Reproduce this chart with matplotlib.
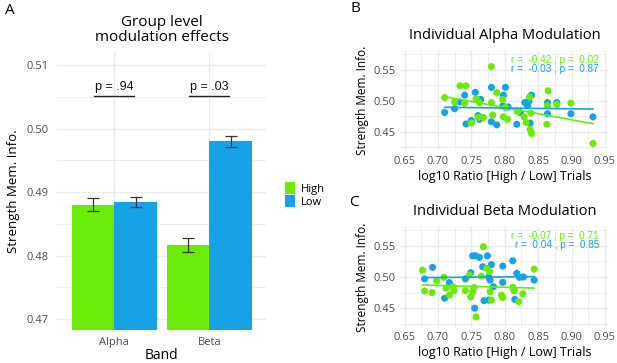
import matplotlib
matplotlib.use("Agg")
import matplotlib.pyplot as plt
from matplotlib.patches import Patch
from matplotlib.ticker import MultipleLocator
import numpy as np

plt.rcParams['font.family'] = ['Open Sans', 'DejaVu Sans']

GREEN = '#6AEB0A'
BLUE = '#17A1E6'
GRID = '#EBEBEB'
TICKC = '#4D4D4D'

# ---- Panel A data ----
bands = ['Alpha', 'Beta']
high_means = [0.4880, 0.4816]
high_se = [0.0010, 0.0011]
low_means = [0.4884, 0.4980]
low_se = [0.0008, 0.0009]
p_labels = ['p = .94', 'p = .03']
group_labels = ['High', 'Low']

# ---- Panel B data (alpha) ----
alpha_high_x = [0.710, 0.725, 0.733, 0.742, 0.740, 0.750, 0.757, 0.762, 0.760, 0.768, 0.780,
                0.780, 0.782, 0.788, 0.797, 0.801, 0.798, 0.804, 0.819, 0.829, 0.832, 0.837,
                0.839, 0.838, 0.840, 0.865, 0.864, 0.863, 0.878, 0.899, 0.932]
alpha_high_y = [0.505, 0.498, 0.524, 0.524, 0.496, 0.464, 0.503, 0.497, 0.473, 0.473, 0.555,
                0.497, 0.477, 0.513, 0.502, 0.489, 0.474, 0.470, 0.482, 0.474, 0.465, 0.506,
                0.480, 0.454, 0.447, 0.516, 0.492, 0.462, 0.494, 0.496, 0.431]
alpha_low_x = [0.710, 0.725, 0.733, 0.740, 0.742, 0.750, 0.756, 0.764, 0.760, 0.762, 0.780,
               0.780, 0.788, 0.801, 0.798, 0.797, 0.805, 0.818, 0.823, 0.830, 0.836, 0.840,
               0.838, 0.834, 0.864, 0.864, 0.878, 0.899, 0.932]
alpha_low_y = [0.481, 0.487, 0.498, 0.509, 0.4625, 0.468, 0.5135, 0.502, 0.476, 0.470, 0.5215,
               0.466, 0.461, 0.5215, 0.509, 0.4915, 0.490, 0.462, 0.481, 0.497, 0.499, 0.509,
               0.464, 0.492, 0.497, 0.479, 0.497, 0.479, 0.474]
alpha_stats = ['r =  -0.42 , p =  0.02', 'r =  -0.03 , p =  0.87']

# ---- Panel C data (beta) ----
beta_high_x = [0.677, 0.680, 0.691, 0.698, 0.709, 0.717, 0.722, 0.724, 0.741, 0.749, 0.754,
               0.757, 0.768, 0.765, 0.773, 0.777, 0.778, 0.780, 0.795, 0.797, 0.812, 0.814,
               0.821, 0.827, 0.844, 0.747, 0.752, 0.712]
beta_high_y = [0.511, 0.4775, 0.475, 0.494, 0.4995, 0.471, 0.4845, 0.478, 0.478, 0.468, 0.483,
               0.436, 0.5485, 0.5015, 0.514, 0.509, 0.4765, 0.463, 0.471, 0.467, 0.4835, 0.478,
               0.4605, 0.473, 0.5125, 0.503, 0.4765, 0.482]
beta_low_x = [0.680, 0.692, 0.710, 0.717, 0.741, 0.749, 0.752, 0.756, 0.762, 0.755, 0.767,
              0.774, 0.780, 0.778, 0.783, 0.769, 0.776, 0.797, 0.797, 0.812, 0.815, 0.818,
              0.822, 0.828, 0.844, 0.776]
beta_low_y = [0.497, 0.5155, 0.466, 0.491, 0.497, 0.507, 0.534, 0.534, 0.5315, 0.450, 0.5165,
              0.534, 0.520, 0.495, 0.4845, 0.462, 0.463, 0.5175, 0.4915, 0.526, 0.464, 0.506,
              0.4995, 0.500, 0.495, 0.500]
beta_stats = ['r =  -0.07 , p =  0.71', 'r =  0.04 , p =  0.85']

W, H = 617, 363
fig = plt.figure(figsize=(W / 100, H / 100), dpi=100)


def px_axes(l, t, r, b):
    return fig.add_axes([l / W, 1 - b / H, (r - l) / W, (b - t) / H])


def style_axes(ax):
    for s in ax.spines.values():
        s.set_visible(False)
    ax.tick_params(which='both', length=0, colors=TICKC, labelsize=8)
    ax.set_axisbelow(True)
    ax.grid(which='major', color=GRID, linewidth=1.0)
    ax.grid(which='minor', color=GRID, linewidth=0.6)


# ---------------- Panel A ----------------
axA = px_axes(57.3, 52.3, 266.3, 330)
style_axes(axA)
xpos = np.arange(1, len(bands) + 1)
bw = 0.45
axA.bar(xpos - bw / 2, high_means, width=bw, color=GREEN, bottom=0, zorder=2)
axA.bar(xpos + bw / 2, low_means, width=bw, color=BLUE, bottom=0, zorder=2)
axA.errorbar(xpos - bw / 2, high_means, yerr=high_se, fmt='none', ecolor='#333333',
             elinewidth=0.9, capsize=4.3, capthick=0.9, zorder=3)
axA.errorbar(xpos + bw / 2, low_means, yerr=low_se, fmt='none', ecolor='#333333',
             elinewidth=0.9, capsize=4.3, capthick=0.9, zorder=3)
axA.set_xlim(0.4, 2.6)
axA.set_ylim(0.4683, 0.512)
axA.set_xticks(xpos)
axA.set_xticklabels(bands)
axA.set_yticks([0.47, 0.48, 0.49, 0.50, 0.51])
axA.set_yticklabels(['0.47', '0.48', '0.49', '0.50', '0.51'])
axA.yaxis.set_minor_locator(MultipleLocator(0.005))
axA.tick_params(axis='x', pad=5)
axA.tick_params(axis='y', pad=6)
axA.grid(which='minor', axis='x', visible=False)
axA.set_xlabel('Band', fontsize=10, labelpad=0)
axA.set_ylabel('Strength Mem. Info.', fontsize=9.5, labelpad=5)
axA.set_title('Group level\nmodulation effects', fontsize=11, pad=8, linespacing=1.05)
for x, lab in zip(xpos, p_labels):
    axA.text(x, 0.5056, lab, ha='center', va='bottom', fontsize=9,
             family=['Liberation Sans', 'DejaVu Sans'], color='#111111')
    axA.plot([x - 0.215, x + 0.205], [0.5051, 0.5051], color='#222222', lw=1.0, zorder=4)

fig.text(5 / W, 1 - 10 / H, 'A', fontsize=11, va='center', ha='left')

# legend
handles = [Patch(facecolor=GREEN, edgecolor='none'), Patch(facecolor=BLUE, edgecolor='none')]
fig.legend(handles, group_labels, loc='center left', bbox_to_anchor=(285 / W, 1 - 195 / H),
           frameon=False, fontsize=8, handlelength=0.9, handleheight=1.2, handletextpad=0.5,
           labelspacing=0.05, borderpad=0, borderaxespad=0)


# ---------------- Panels B and C ----------------
def scatter_panel(ax, hx, hy, lx, ly, stats, title):
    style_axes(ax)
    for xs, ys, c in ((lx, ly, BLUE), (hx, hy, GREEN)):
        xs = np.asarray(xs)
        ys = np.asarray(ys)
        ax.scatter(xs, ys, s=26, color=c, edgecolors='none', zorder=3)
    for xs, ys, c in ((hx, hy, GREEN), (lx, ly, BLUE)):
        xs = np.asarray(xs)
        ys = np.asarray(ys)
        k, b0 = np.polyfit(xs, ys, 1)
        xx = np.array([xs.min(), xs.max()])
        ax.plot(xx, k * xx + b0, color=c, lw=1.2, zorder=4)
    ax.set_xlim(0.645, 0.955)
    ax.set_ylim(0.42, 0.58)
    ax.set_xticks([0.65, 0.70, 0.75, 0.80, 0.85, 0.90, 0.95])
    ax.set_xticklabels(['0.65', '0.70', '0.75', '0.80', '0.85', '0.90', '0.95'])
    ax.set_yticks([0.45, 0.50, 0.55])
    ax.set_yticklabels(['0.45', '0.50', '0.55'])
    ax.xaxis.set_minor_locator(MultipleLocator(0.025))
    ax.yaxis.set_minor_locator(MultipleLocator(0.025))
    ax.tick_params(axis='x', pad=4)
    ax.tick_params(axis='y', pad=4)
    ax.set_xlabel('log10 Ratio [High / Low] Trials', fontsize=9, labelpad=2)
    ax.set_ylabel('Strength Mem. Info.', fontsize=8.5, labelpad=3)
    ax.set_title(title, fontsize=10.5, pad=9)
    ax.text(0.941, 0.5658, stats[0], color=GREEN, ha='right', va='center', fontsize=7.2,
            family=['Liberation Sans', 'DejaVu Sans'])
    ax.text(0.941, 0.5512, stats[1], color=BLUE, ha='right', va='center', fontsize=7.2,
            family=['Liberation Sans', 'DejaVu Sans'])


axB = px_axes(401.2, 51.1, 608.3, 150.3)
scatter_panel(axB, alpha_high_x, alpha_high_y, alpha_low_x, alpha_low_y, alpha_stats,
              'Individual Alpha Modulation')
axC = px_axes(401.2, 227.1, 608.3, 326.9)
scatter_panel(axC, beta_high_x, beta_high_y, beta_low_x, beta_low_y, beta_stats,
              'Individual Beta Modulation')

fig.text(355 / W, 1 - 8 / H, 'B', fontsize=11, va='center', ha='center')
fig.text(354 / W, 1 - 203 / H, 'C', fontsize=11, va='center', ha='center')

fig.savefig('out.png', dpi=100)
